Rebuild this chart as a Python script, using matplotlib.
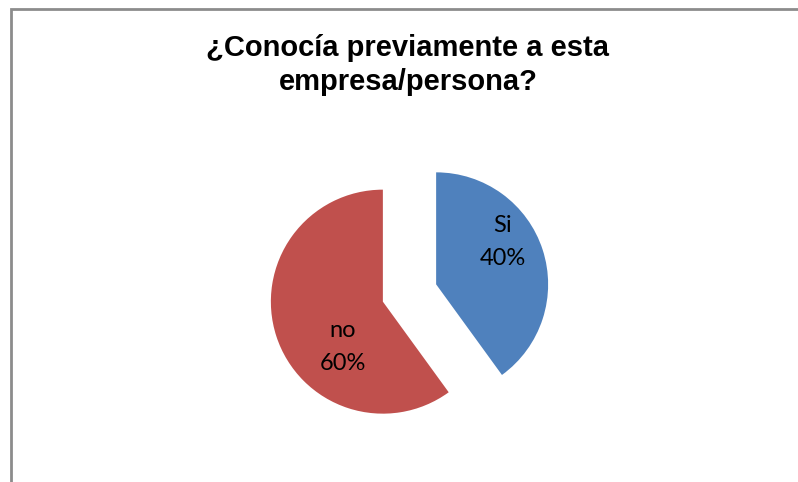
import matplotlib
matplotlib.use("Agg")
import matplotlib.pyplot as plt
from matplotlib.patches import Rectangle
import numpy as np

categories = ["Si", "no"]
values = [40, 60]
colors = ["#4F81BD", "#C0504D"]
title = "¿Conocía previamente a esta\nempresa/persona?"

W, H = 798, 482
fig = plt.figure(figsize=(W / 100, H / 100), dpi=100)
fig.patch.set_facecolor("white")

ax = fig.add_axes([0, 0, 1, 1])
ax.set_xlim(0, W)
ax.set_ylim(0, H)
ax.set_aspect("equal")
ax.axis("off")

# frame (only left and top visible in the crop)
ax.add_patch(Rectangle((10.5, -20), W + 40, H - 8.5 + 20, fill=False,
                       edgecolor="#8c8c8c", linewidth=2.0, zorder=0))

cx, cy = 409.5, H - 293
radius = 112
explode = [28, 28]  # data units (pixels)
wedges, _ = ax.pie(values, colors=colors, startangle=90, counterclock=False,
                   radius=radius, center=(cx, cy), explode=explode,
                   wedgeprops=dict(linewidth=0), frame=True)
ax.set_xlim(0, W)
ax.set_ylim(0, H)
ax.axis("off")

# label offsets relative to pie centre (layout)
label_offsets = [(93, 51), (-67, -54)]
total = sum(values)
for cat, v, (dx, dy) in zip(categories, values, label_offsets):
    ax.text(cx + dx, cy + dy, f"{cat}\n{v / total * 100:.0f}%", ha="center",
            va="center", fontsize=17, family="Lato", linespacing=1.7,
            color="black")

fig.text(408 / W, 1 - 34 / H, title, ha="center", va="top", fontsize=21,
         fontweight="bold", family="Liberation Sans", linespacing=1.27)

fig.savefig("out.png", dpi=100, facecolor="white")
